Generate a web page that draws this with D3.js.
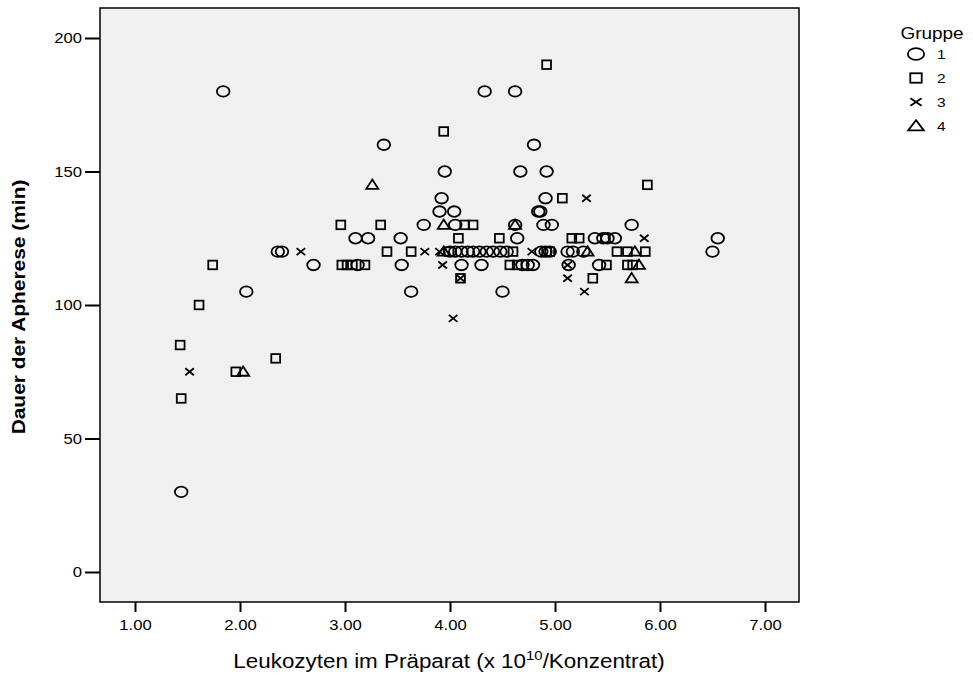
<!DOCTYPE html>
<html>
<head>
<meta charset="utf-8">
<script src="https://cdn.jsdelivr.net/npm/d3@7"></script>
<style>
  html, body { margin: 0; padding: 0; background: #ffffff; }
  svg { display: block; }
  text { font-family: "Liberation Sans", Arial, Helvetica, sans-serif; fill: #000; }
</style>
</head>
<body>
<svg id="chart" width="973" height="675"></svg>
<script>
// Leukozyten im Präparat (x 10^10/Konzentrat) vs. Dauer der Apherese (min), by Gruppe
const group1X = [1.44,1.84,2.06,2.36,2.40,2.70,3.10,3.22,3.12,3.37,3.53,3.54,3.63,3.75,3.90,4.04,3.92,3.95,4.05,4.11,4.30,4.33,4.62,4.50,4.64,4.67,4.80,4.84,4.86,4.91,4.92,4.89,4.97,4.62,
                 4.00,4.05,4.11,4.17,4.22,4.28,4.35,4.41,4.48,4.54,4.87,4.91,4.95,4.69,4.74,4.79,5.13,5.12,5.17,5.27,5.38,5.46,5.50,5.57,5.42,5.73,6.50,6.55];
const group1Y = [30,180,105,120,120,115,125,125,115,160,125,115,105,130,135,135,140,150,130,115,115,180,180,105,125,150,160,135,135,140,150,130,130,130,
                 120,120,120,120,120,120,120,120,120,120,120,120,120,115,115,115,115,120,120,120,125,125,125,125,115,130,120,125];

const group2X = [1.43,1.44,1.61,1.74,1.96,2.34,2.96,2.97,3.02,3.07,3.19,3.34,3.40,3.63,3.94,4.14,4.22,4.08,4.10,4.47,4.60,4.57,4.64,4.92,5.07,4.92,5.16,5.23,5.36,5.49,5.59,5.69,5.86,5.69,5.74,5.88,3.99,5.48,4.95];
const group2Y = [85,65,100,115,75,80,130,115,115,115,115,130,120,120,165,130,130,125,110,125,120,115,115,190,140,120,125,125,110,115,120,120,120,115,115,145,120,125,120];

const group3X = [1.52,2.58,3.76,3.93,4.03,4.10,4.78,5.12,5.12,5.28,5.30,5.85,3.90];
const group3Y = [75,120,120,115,95,110,120,115,110,105,140,125,120];

const group4X = [2.03,3.26,3.94,3.94,4.62,5.31,5.76,5.80,5.73];
const group4Y = [75,145,130,120,130,120,120,115,110];

const groupLabels = ["1", "2", "3", "4"];
const xTicks = [1, 2, 3, 4, 5, 6, 7];
const yTicks = [0, 50, 100, 150, 200];

const svg = d3.select("#chart");
const WIDE = 1.15; // horizontal stretch of the lettering

// plot frame
const frame = { left: 100, right: 799, top: 8, bottom: 602 };
const x = d3.scaleLinear().domain([1, 7]).range([135, 765]);
const y = d3.scaleLinear().domain([0, 200]).range([572, 38]);

svg.append("rect")
  .attr("x", frame.left).attr("y", frame.top)
  .attr("width", frame.right - frame.left).attr("height", frame.bottom - frame.top)
  .attr("fill", "#f0f0f0").attr("stroke", "#000").attr("stroke-width", 1.5);

// axes
const xAxis = d3.axisBottom(x).tickValues(xTicks).tickFormat(d3.format(".2f")).tickSize(10).tickPadding(8);
const gx = svg.append("g").attr("transform", `translate(0,${frame.bottom})`).call(xAxis);
gx.select(".domain").remove();
gx.selectAll(".tick line").attr("stroke", "#000").attr("stroke-width", 2);
gx.selectAll(".tick text").attr("font-size", 14.5).attr("font-family", "Liberation Sans, Arial, sans-serif")
  .attr("transform", `scale(${WIDE},1)`);

const yAxis = d3.axisLeft(y).tickValues(yTicks).tickSize(15).tickPadding(3);
const gy = svg.append("g").attr("transform", `translate(${frame.left},0)`).call(yAxis);
gy.select(".domain").remove();
gy.selectAll(".tick line").attr("stroke", "#000").attr("stroke-width", 2);
gy.selectAll(".tick text").attr("font-size", 14.5).attr("font-family", "Liberation Sans, Arial, sans-serif")
  .attr("x", -18 / WIDE).attr("transform", `scale(${WIDE},1)`);

// axis titles
const xTitle = svg.append("g").attr("transform", `translate(449,668) scale(${WIDE},1)`)
  .append("text").attr("text-anchor", "middle").attr("font-size", 19.5);
xTitle.append("tspan").text("Leukozyten im Präparat (x 10");
xTitle.append("tspan").attr("font-size", 13).attr("dy", -8).text("10");
xTitle.append("tspan").attr("dy", 8).text("/Konzentrat)");

svg.append("text")
  .attr("transform", "translate(25,307) rotate(-90) scale(1.1,1)")
  .attr("text-anchor", "middle").attr("font-size", 19).attr("font-weight", "bold")
  .text("Dauer der Apherese (min)");

// marker shapes
function drawMarker(g, kind, sx, sy) {
  g.attr("fill", "none").attr("stroke", "#000").attr("stroke-width", 1.8);
  if (kind === 0) {
    g.append("ellipse").attr("rx", 6.3 * sx).attr("ry", 5.3 * sy);
  } else if (kind === 1) {
    g.append("rect").attr("x", -4.4 * sx).attr("y", -4.3 * sy).attr("width", 8.8 * sx).attr("height", 8.6 * sy);
  } else if (kind === 2) {
    g.append("path").attr("d", `M${-4.3*sx},${-3.5*sy}L${4.3*sx},${3.5*sy}M${-4.3*sx},${3.5*sy}L${4.3*sx},${-3.5*sy}`);
  } else {
    g.append("path").attr("d", `M0,${-5.3*sy}L${6*sx},${4*sy}L${-6*sx},${4*sy}Z`);
  }
}

const groups = [
  { xs: group1X, ys: group1Y },
  { xs: group2X, ys: group2Y },
  { xs: group3X, ys: group3Y },
  { xs: group4X, ys: group4Y }
];

const pts = svg.append("g");
groups.forEach((grp, k) => {
  grp.xs.forEach((v, i) => {
    const m = pts.append("g").attr("transform", `translate(${x(v)},${y(grp.ys[i])})`);
    drawMarker(m, k, 1, 1);
  });
});

// legend
const legend = svg.append("g");
legend.append("g").attr("transform", `translate(932,39) scale(${WIDE},1)`)
  .append("text").attr("text-anchor", "middle").attr("font-size", 16.5).text("Gruppe");
groupLabels.forEach((lab, k) => {
  const cy = 54 + k * 24;
  const m = legend.append("g").attr("transform", `translate(916,${cy})`);
  drawMarker(m, k, 1.3, 1.1);
  legend.append("g").attr("transform", `translate(937,${cy + 5}) scale(${WIDE},1)`)
    .append("text").attr("font-size", 13.5).text(lab);
});
</script>
</body>
</html>
